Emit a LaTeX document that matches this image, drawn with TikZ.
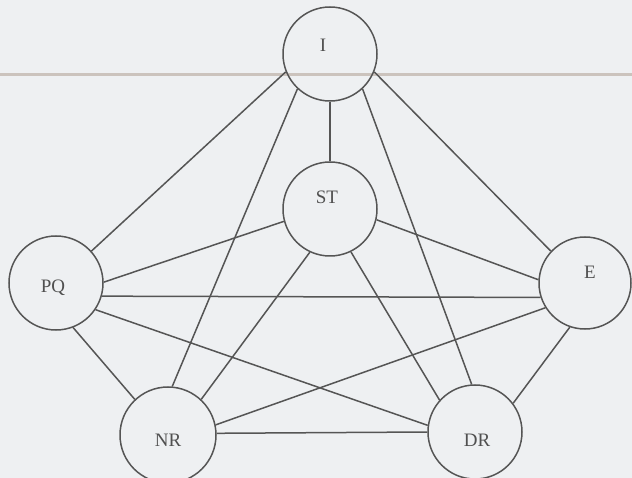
\documentclass[tikz,border=0pt]{standalone}
\usepackage{fontspec}
\setmainfont{Liberation Serif}
\definecolor{bgc}{HTML}{EEF0F2}
\definecolor{band}{HTML}{CBC3BD}
\definecolor{ink}{HTML}{555555}
\definecolor{txt}{HTML}{505050}
\begin{document}
\begin{tikzpicture}[x=1pt,y=-1pt,
  circ/.style={circle,draw=ink,line width=1.5pt,minimum size=94pt,inner sep=0pt},
  lab/.style={text=txt,font=\fontsize{19}{19}\selectfont},
  edge/.style={draw=ink,line width=1.5pt}]
\fill[bgc] (0,0) rectangle (632,478);
\useasboundingbox (0,0) rectangle (632,478);
\draw[band,line width=3pt] (0,75) -- (632,75);
\node[circ,label={[lab,shift={(-7,-9)}]center:I}] (I) at (330,54) {};
\node[circ,label={[lab,shift={(-3,-12)}]center:ST}] (ST) at (330,209) {};
\node[circ,label={[lab,shift={(-3,5)}]center:PQ}] (PQ) at (56,283) {};
\node[circ,minimum size=92pt,label={[lab,shift={(5,-11)}]center:E}] (E) at (585,283) {};
\node[circ,minimum size=96pt,label={[lab,shift={(0,5)}]center:NR}] (NR) at (168,435) {};
\node[circ,label={[lab,shift={(2,8)}]center:DR}] (DR) at (475,432) {};
% edges from I
\draw[edge] (I.202) -- (PQ.42);
\draw[edge] (I.227) -- (NR.85);
\draw[edge] (I.270) -- (ST.90);
\draw[edge] (I.313) -- (DR.94);
\draw[edge] (I.338) -- (E.137);
% edges from ST
\draw[edge] (ST.195) -- (PQ.1);
\draw[edge] (ST.347) -- (E.176);
\draw[edge] (ST.245) -- (NR.47);
\draw[edge] (ST.296) -- (DR.138);
% edges from PQ
\draw[edge] (PQ.344) -- (E.198);
\draw[edge] (PQ.291) -- (NR.133);
\draw[edge] (PQ.326) -- (DR.172);
% edges from E
\draw[edge] (E.212) -- (NR.12);
\draw[edge] (E.251) -- (DR.37);
% NR - DR
\draw[edge] (NR.2) -- (DR.180);
\end{tikzpicture}
\end{document}
